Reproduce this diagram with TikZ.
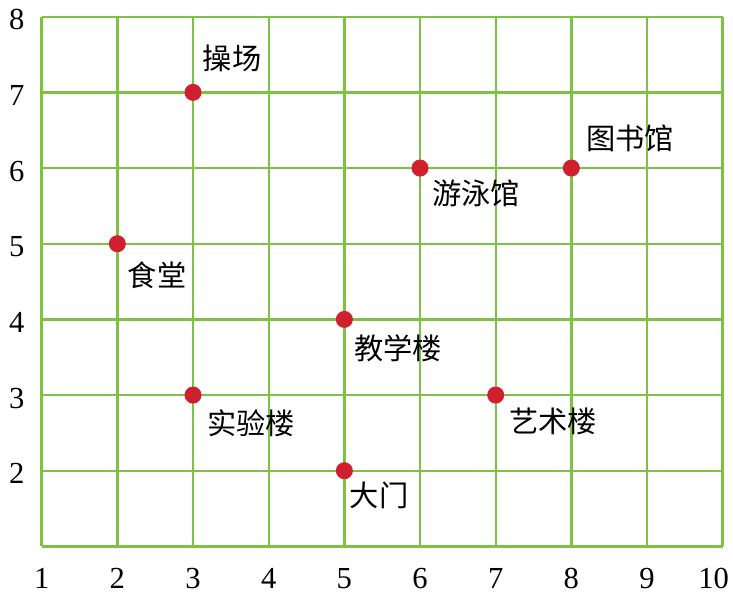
\documentclass[tikz,border=0pt]{standalone}
\usepackage{fontspec}
\setmainfont{Liberation Serif}
\newfontfamily\cjk{Noto Sans CJK SC}
\definecolor{gridgreen}{RGB}{125,194,66}
\definecolor{dotred}{RGB}{208,32,46}
\begin{document}
\begin{tikzpicture}[
  gridline/.style={draw=gridgreen, line width=0.9pt},
  place/.style={circle, fill=dotred, inner sep=0pt, minimum size=0.225cm},
  placelabel/.style={font=\cjk\fontsize{11}{13}\selectfont, inner sep=0pt},
  ticklabel/.style={font=\fontsize{11.5}{13}\selectfont, inner sep=0pt}
]
\useasboundingbox (0.449,0.384) rectangle (10.136,8.221);
\draw[gridline] (1,1) grid (10,8);
\foreach \v in {1,...,9} \node[ticklabel] (bx\v) at (\v,0.58) {\v};
\node[ticklabel] (bx10) at (9.88,0.58) {10};
\foreach \v in {2,...,8} \node[ticklabel] (ly\v) at (0.67,\v-0.04) {\v};
% places
\node[place] (p1) at (3,7) {};
\node[place] (p2) at (8,6) {};
\node[place] (p3) at (6,6) {};
\node[place] (p4) at (2,5) {};
\node[place] (p5) at (5,4) {};
\node[place] (p6) at (3,3) {};
\node[place] (p7) at (7,3) {};
\node[place] (p8) at (5,2) {};
\node[placelabel] (t1) at (3.515,7.455) {操场};
\node[placelabel] (t2) at (8.775,6.397) {图书馆};
\node[placelabel] (t3) at (6.739,5.67) {游泳馆};
\node[placelabel] (t4) at (2.524,4.587) {食堂};
\node[placelabel] (t5) at (5.709,3.622) {教学楼};
\node[placelabel] (t6) at (3.766,2.631) {实验楼};
\node[placelabel] (t7) at (7.757,2.657) {艺术楼};
\node[placelabel] (t8) at (5.458,1.68) {大门};
\end{tikzpicture}
\end{document}
